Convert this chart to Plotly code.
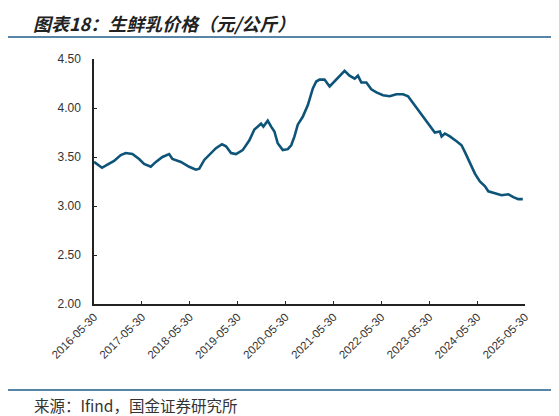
import plotly.graph_objects as go

# 生鲜乳价格（元/公斤），
dates = ['2016-05-30', '2016-07-30', '2016-09-06', '2016-10-30', '2016-12-20',
         '2017-01-27', '2017-03-19', '2017-05-09', '2017-06-16', '2017-08-06',
         '2017-09-14', '2017-11-03', '2017-12-24', '2018-01-18', '2018-03-24',
         '2018-05-26', '2018-07-16', '2018-08-11', '2018-09-18', '2018-10-26',
         '2018-12-16', '2019-01-31', '2019-03-03', '2019-04-10', '2019-05-18',
         '2019-07-08', '2019-08-28', '2019-10-05', '2019-11-25', '2019-12-13',
         '2020-01-15', '2020-02-10', '2020-03-06', '2020-03-31', '2020-05-09',
         '2020-06-16', '2020-07-12', '2020-08-06', '2020-08-31', '2020-10-08',
         '2020-11-16', '2020-12-24', '2021-01-19', '2021-02-13', '2021-03-23',
         '2021-05-01', '2021-06-08', '2021-07-16', '2021-08-23', '2021-09-30',
         '2021-11-08', '2021-12-03', '2021-12-29', '2022-02-05', '2022-03-15',
         '2022-04-23', '2022-06-12', '2022-08-02', '2022-09-22', '2022-11-12',
         '2022-12-20', '2023-01-27', '2023-03-07', '2023-04-14', '2023-06-04',
         '2023-07-12', '2023-08-20', '2023-09-02', '2023-09-27', '2023-11-04',
         '2023-12-25', '2024-02-01', '2024-02-27', '2024-04-05', '2024-05-13',
         '2024-06-20', '2024-07-29', '2024-08-23', '2024-10-13', '2024-12-03',
         '2025-01-23', '2025-03-02', '2025-04-09', '2025-05-13']
prices = [3.45, 3.39, 3.42, 3.46, 3.52,
          3.54, 3.53, 3.48, 3.43, 3.40,
          3.45, 3.50, 3.53, 3.48, 3.45,
          3.40, 3.37, 3.38, 3.47, 3.52,
          3.59, 3.63, 3.61, 3.54, 3.53,
          3.57, 3.67, 3.78, 3.84, 3.81,
          3.87, 3.81, 3.76, 3.64, 3.57,
          3.58, 3.62, 3.71, 3.83, 3.91,
          4.03, 4.20, 4.27, 4.29, 4.29,
          4.22, 4.27, 4.32, 4.38, 4.33,
          4.30, 4.33, 4.26, 4.26, 4.19,
          4.16, 4.13, 4.12, 4.14, 4.14,
          4.12, 4.05, 3.98, 3.91, 3.83,
          3.75, 3.76, 3.71, 3.74, 3.71,
          3.66, 3.62, 3.55, 3.44, 3.33,
          3.25, 3.20, 3.15, 3.13, 3.11,
          3.12, 3.09, 3.07, 3.07]

tick_dates = ['%d-05-30' % y for y in range(2016, 2026)]

fig = go.Figure(go.Scatter(
    x=dates,
    y=prices,
    mode='lines',
    line=dict(color='#0E5478', width=2.6),
    hoverinfo='x+y'
))

# page body has an 8px margin, so the figure is a bit smaller than the window
fig.update_layout(
    width=551,
    height=408,
    margin=dict(l=86, r=34, t=51, b=112),
    paper_bgcolor='white',
    plot_bgcolor='white',
    showlegend=False,
    font=dict(family='Liberation Sans, Arial', size=12, color='#333333'),
    xaxis=dict(
        type='date',
        range=['2016-05-30', '2025-05-30'],
        tickvals=tick_dates,
        ticktext=tick_dates,
        tickangle=-45,
        tickfont=dict(size=11.5),
        showgrid=False,
        zeroline=False,
        showline=True,
        linecolor='#222222',
        linewidth=1.5,
        ticks='inside',
        ticklen=3,
        tickcolor='#222222'
    ),
    yaxis=dict(
        range=[2, 4.5],
        dtick=0.5,
        tickformat='.2f',
        tickfont=dict(size=12),
        ticklabelstandoff=9,
        showgrid=False,
        zeroline=False,
        showline=True,
        linecolor='#222222',
        linewidth=1.5,
        ticks='inside',
        ticklen=3,
        tickcolor='#222222'
    )
)

# title, rules and source note
fig.add_annotation(
    text='<b><i>图表18：生鲜乳价格（元/公斤）</i></b>',
    xref='paper', yref='paper', x=-0.145, y=1.204,
    xanchor='left', yanchor='top', showarrow=False, borderpad=0,
    font=dict(family='Noto Sans CJK SC', size=18, color='#222222')
)
fig.add_shape(type='line', xref='paper', yref='paper',
              x0=-0.21, x1=1.07, y0=1.09, y1=1.09,
              line=dict(color='#1F5C8B', width=1.5))
fig.add_shape(type='line', xref='paper', yref='paper',
              x0=-0.21, x1=1.07, y0=-0.351, y1=-0.351,
              line=dict(color='#1F5C8B', width=1.5))
fig.add_annotation(
    text='来源：Ifind，国金证券研究所',
    xref='paper', yref='paper', x=-0.145, y=-0.412,
    xanchor='left', yanchor='middle', showarrow=False,
    font=dict(family='Noto Sans CJK SC', size=15.5, color='#333333')
)

fig.write_html("out.html")
